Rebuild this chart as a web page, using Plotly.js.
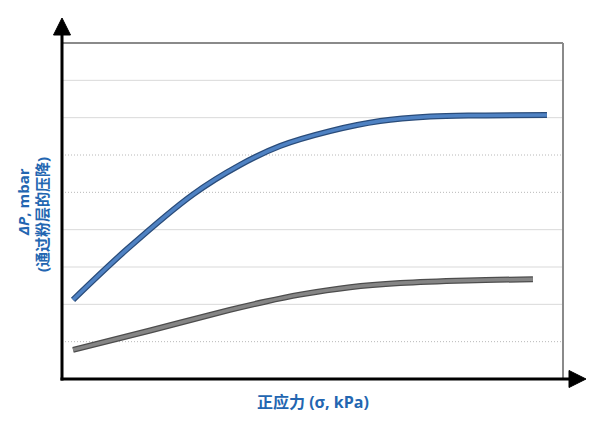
<!DOCTYPE html>
<html>
<head>
<meta charset="utf-8">
<script src="https://cdn.plot.ly/plotly-3.0.1.min.js"></script>
<style>html,body{margin:0;padding:0;background:#fff;}#chart{width:605px;height:422px;}</style>
</head>
<body>
<div id="chart"></div>
<script>
// Data (arbitrary units, no tick labels shown)
const blueX = [0.22, 1.30, 2.61, 3.55, 4.35, 5.35, 6.35, 7.35, 8.34, 9.68];
const blueY = [2.12, 3.48, 4.94, 5.73, 6.24, 6.64, 6.91, 7.03, 7.06, 7.07];
const grayX = [0.22, 1.76, 3.35, 4.05, 4.75, 5.75, 6.75, 8.08, 9.40];
const grayY = [0.78, 1.30, 1.85, 2.07, 2.26, 2.46, 2.57, 2.64, 2.67];
const solidGrid = [2, 3, 4, 7, 8];
const dottedGrid = [1, 5, 6];
const xTitle = '正应力 (σ, kPa)';
const yTitleLine1 = '<i>ΔP</i>, mbar';
const yTitleLine2 = '(通过粉层的压降)';

const font = '"Open Sans", "Noto Sans CJK SC", sans-serif';
const blueText = '#2366b1';

function lineTrace(x, y, color, width) {
  return {x: x, y: y, type: 'scatter', mode: 'lines',
    line: {color: color, width: width, shape: 'spline', smoothing: 1.0},
    hoverinfo: 'skip', showlegend: false};
}

const traces = [
  lineTrace(grayX, grayY, '#4d4d4d', 6),
  lineTrace(grayX, grayY, '#858585', 3.5),
  lineTrace(blueX, blueY, '#2a4c7a', 6),
  lineTrace(blueX, blueY, '#4f82c3', 3.5)
];

const shapes = [];
solidGrid.forEach(v => shapes.push({type: 'line', xref: 'paper', yref: 'y', x0: 0, x1: 1, y0: v, y1: v,
  line: {color: '#d9d9d9', width: 1}, layer: 'below'}));
dottedGrid.forEach(v => shapes.push({type: 'line', xref: 'paper', yref: 'y', x0: 0, x1: 1, y0: v, y1: v,
  line: {color: '#b8b8b8', width: 1, dash: '1px,2px'}, layer: 'below'}));
// top and right gray border
shapes.push({type: 'line', xref: 'paper', yref: 'paper', x0: 0, x1: 1, y0: 1, y1: 1, line: {color: '#8a8a8a', width: 2}});
shapes.push({type: 'line', xref: 'paper', yref: 'paper', x0: 1, x1: 1, y0: 0, y1: 1, line: {color: '#8a8a8a', width: 2}});
// black axes with arrows (paper coords: px -> (px-62)/501, (379-py)/336)
const px = v => (v - 62) / 501;
const py = v => (379 - v) / 336;
shapes.push({type: 'line', xref: 'paper', yref: 'paper', x0: px(62), x1: px(62), y0: py(380.5), y1: py(34), line: {color: '#000', width: 3}});
shapes.push({type: 'line', xref: 'paper', yref: 'paper', x0: px(60.5), x1: px(571), y0: py(379), y1: py(379), line: {color: '#000', width: 3}});
shapes.push({type: 'path', xref: 'paper', yref: 'paper',
  path: `M ${px(53.5)} ${py(35)} L ${px(62)} ${py(18)} L ${px(70.5)} ${py(35)} Z`,
  fillcolor: '#000', line: {color: '#000', width: 1}});
shapes.push({type: 'path', xref: 'paper', yref: 'paper',
  path: `M ${px(569)} ${py(370.5)} L ${px(586)} ${py(379)} L ${px(569)} ${py(387.5)} Z`,
  fillcolor: '#000', line: {color: '#000', width: 1}});

const layout = {
  width: 605, height: 422,
  margin: {l: 62, r: 42, t: 43, b: 43, pad: 0},
  paper_bgcolor: '#fff', plot_bgcolor: '#fff',
  showlegend: false,
  xaxis: {range: [0, 10], showgrid: false, zeroline: false, showticklabels: false, showline: false, ticks: ''},
  yaxis: {range: [0, 9], showgrid: false, zeroline: false, showticklabels: false, showline: false, ticks: ''},
  shapes: shapes,
  annotations: [
    {text: '<b>' + xTitle + '</b>', xref: 'paper', yref: 'paper', x: px(313), y: py(402), showarrow: false,
      xanchor: 'center', yanchor: 'middle', font: {family: font, size: 16, color: blueText}},
    {text: '<b>' + yTitleLine1 + '</b>', xref: 'paper', yref: 'paper', x: px(23), y: py(202), showarrow: false,
      xanchor: 'center', yanchor: 'middle', textangle: -90, font: {family: font, size: 15, color: blueText}},
    {text: '<b>' + yTitleLine2 + '</b>', xref: 'paper', yref: 'paper', x: px(42), y: py(215), showarrow: false,
      xanchor: 'center', yanchor: 'middle', textangle: -90, font: {family: font, size: 15, color: blueText}}
  ]
};

Plotly.newPlot('chart', traces, layout, {displayModeBar: false, staticPlot: true});
</script>
</body>
</html>
